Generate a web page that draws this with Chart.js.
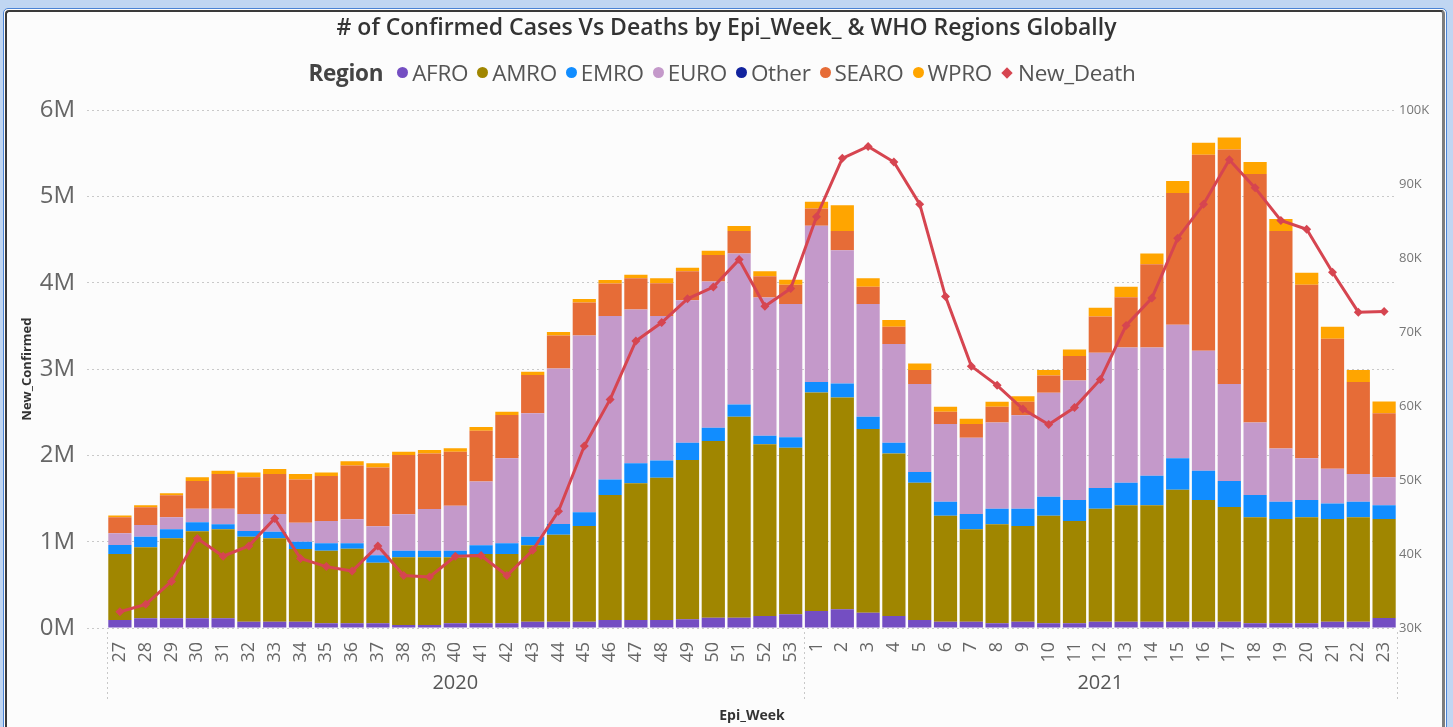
<!DOCTYPE html>
<html>
<head>
<meta charset="utf-8">
<script src="https://cdn.jsdelivr.net/npm/chart.js@4"></script>
<style>
  html, body { margin: 0; padding: 0; }
  body { width: 1453px; height: 727px; background: #c0d6f2; position: relative; overflow: hidden; font-family: "Open Sans", sans-serif; }
  .frame { position: absolute; left: 3px; top: 8px; width: 1444px; height: 740px; border: 1px solid #4b83d4; border-radius: 5px 5px 0 0; background: #fcfcfc; box-sizing: border-box; }
  .panel { position: absolute; left: 5px; top: 10px; width: 1440px; height: 740px; border-left: 2px solid #3a3a3a; border-top: 2px solid #3a3a3a; border-right: 3px solid #7d7d7d; border-radius: 4px 4px 0 0; background: #fcfcfc; box-sizing: border-box; }
  #chart { position: absolute; left: 0; top: 0; }
  #legend { position: absolute; left: 0; top: 57px; width: 1453px; display: flex; justify-content: center; align-items: center; font-size: 22.5px; color: #555; letter-spacing: -0.3px; }
  #legend .ttl { font-weight: 700; color: #444; margin-right: 14px; }
  #legend .item { display: flex; align-items: center; margin-right: 9px; }
  #legend .dot { width: 11px; height: 11px; border-radius: 50%; margin-right: 4px; }
  #legend .dia { width: 8px; height: 8px; transform: rotate(45deg); margin-right: 7px; margin-left: 2px; }
</style>
</head>
<body>
<div class="frame"></div>
<div class="panel"></div>
<canvas id="chart" width="1453" height="727"></canvas>
<div id="legend"></div>
<script>
// Epi weeks, 2020 wk27 .. 2021 wk23
const weeks = ['27','28','29','30','31','32','33','34','35','36','37','38','39','40','41','42','43','44','45','46','47','48','49','50','51','52','53',
  '1','2','3','4','5','6','7','8','9','10','11','12','13','14','15','16','17','18','19','20','21','22','23'];
const years = ['2020','2020','2020','2020','2020','2020','2020','2020','2020','2020','2020','2020','2020','2020','2020','2020','2020','2020','2020','2020','2020','2020','2020','2020','2020','2020','2020',
  '2021','2021','2021','2021','2021','2021','2021','2021','2021','2021','2021','2021','2021','2021','2021','2021','2021','2021','2021','2021','2021','2021','2021'];

// new confirmed cases per region, in thousands
const afro  = [93,112,112,112,112,73,73,73,54,54,54,35,35,54,54,54,73,73,73,93,93,93,100,119,119,139,158,
  197,216,177,139,93,73,73,54,73,54,54,73,73,73,73,73,73,54,54,54,73,73,116];
const amro  = [764,823,927,1008,1031,985,966,842,842,865,703,784,784,765,803,803,885,1008,1109,1448,1583,1648,1846,2047,2329,1989,1931,
  2533,2456,2128,1884,1590,1228,1070,1147,1109,1247,1185,1309,1348,1348,1529,1410,1329,1228,1209,1228,1190,1209,1147];
const emro  = [104,123,104,104,58,66,77,85,85,62,85,77,77,77,101,124,100,124,158,181,232,201,201,154,143,100,120,
  120,162,143,124,124,162,177,181,200,220,244,240,262,343,364,339,301,259,200,201,181,181,158];
const euro  = [136,135,139,158,181,196,204,220,258,278,336,421,482,521,741,985,1429,1803,2050,1892,1783,1672,1652,1696,1749,1603,1544,
  1810,1544,1305,1143,1019,900,885,1000,1082,1205,1386,1567,1568,1487,1547,1390,1123,841,618,483,402,321,325];
const other = [0,0,0,0,0,0,0,0,0,0,0,0,0,0,0,0,0,0,0,0,0,0,0,0,0,0,0,
  0,0,0,0,0,0,0,0,0,0,0,0,0,0,0,0,0,0,0,0,0,0,0];
const searo = [185,205,255,321,402,426,464,502,522,625,683,687,645,625,587,501,444,382,383,379,363,382,336,305,259,246,224,
  201,221,201,200,163,143,158,182,157,201,282,421,583,965,1529,2271,2719,2880,2518,2011,1505,1066,741];
const wpro  = [23,23,23,43,38,57,58,62,42,47,47,38,39,40,42,39,38,39,38,38,39,58,39,50,58,58,58,
  77,301,98,78,77,58,61,57,63,62,77,100,120,124,139,139,139,139,139,139,139,139,139];

// weekly new deaths
const newDeath = [32200,33200,36300,42100,39700,41100,44800,39400,38300,37700,41100,37100,36900,39700,39800,37100,40500,45800,54600,60900,68800,71300,74500,76100,79800,73500,75900,
  85600,93500,95100,93000,87300,74800,65400,62800,59600,57500,59800,63600,70900,74600,82700,87300,93300,89500,85100,83900,78100,72700,72800];

const regionNames = ['AFRO','AMRO','EMRO','EURO','Other','SEARO','WPRO'];
const regionData = [afro, amro, emro, euro, other, searo, wpro];
const regionColors = ['#744EC2','#A08600','#118DFF','#C499CA','#12239E','#E66C37','#FFA500'];
const deathColor = '#D64550';

const datasets = regionNames.map((name, i) => ({
  type: 'bar',
  label: name,
  data: regionData[i],
  backgroundColor: regionColors[i],
  borderWidth: 0,
  barPercentage: 0.9,
  categoryPercentage: 1.0,
  yAxisID: 'y',
  order: 2
}));
datasets.push({
  type: 'line',
  label: 'New_Death',
  data: newDeath,
  yAxisID: 'y1',
  borderColor: deathColor,
  backgroundColor: deathColor,
  borderWidth: 3,
  pointStyle: 'rectRot',
  pointRadius: 4.5,
  pointBackgroundColor: deathColor,
  pointBorderWidth: 0,
  tension: 0,
  order: 0
});

// year row under the week labels
const yearGroups = {
  id: 'yearGroups',
  afterDraw(chart) {
    const x = chart.scales.x;
    const ctx = chart.ctx;
    const half = (x.getPixelForValue(1) - x.getPixelForValue(0)) / 2;
    const groups = [];
    years.forEach((y, i) => {
      const last = groups[groups.length - 1];
      if (last && last.year === y) last.end = i;
      else groups.push({ year: y, start: i, end: i });
    });
    ctx.save();
    ctx.strokeStyle = '#c8c8c8';
    ctx.lineWidth = 1;
    ctx.setLineDash([2, 3]);
    const edges = [x.getPixelForValue(0) - half];
    groups.forEach(g => edges.push(x.getPixelForValue(g.end) + half));
    edges.forEach(px => {
      ctx.beginPath();
      ctx.moveTo(Math.round(px) + 0.5, chart.chartArea.bottom + 4);
      ctx.lineTo(Math.round(px) + 0.5, 700);
      ctx.stroke();
    });
    ctx.setLineDash([]);
    ctx.fillStyle = '#555';
    ctx.font = '20px "Open Sans"';
    ctx.textAlign = 'center';
    ctx.textBaseline = 'middle';
    groups.forEach(g => {
      const cx = (x.getPixelForValue(g.start) + x.getPixelForValue(g.end)) / 2;
      ctx.fillText(g.year, cx, 683);
    });
    ctx.restore();
  }
};

const ctx = document.getElementById('chart').getContext('2d');
new Chart(ctx, {
  data: { labels: weeks, datasets: datasets },
  plugins: [yearGroups],
  options: {
    responsive: false,
    animation: false,
    layout: { padding: 0 },
    plugins: {
      legend: { display: false },
      tooltip: { enabled: false },
      title: {
        display: true,
        text: '# of Confirmed Cases Vs Deaths by Epi_Week_ & WHO Regions Globally',
        color: '#333',
        font: { family: 'Open Sans', size: 23, weight: '600' },
        padding: { top: 15, bottom: 67.6 }
      }
    },
    scales: {
      x: {
        stacked: true,
        grid: { display: false },
        border: { display: false },
        ticks: {
          autoSkip: false, minRotation: 90, maxRotation: 90,
          color: '#666', font: { family: 'Open Sans', size: 18 }, padding: 6
        },
        title: {
          display: true, text: 'Epi_Week', color: '#333',
          font: { family: 'Open Sans', size: 14, weight: 'bold' }, padding: { top: 0, bottom: 3 }
        },
        afterFit(scale) { scale.height = 99; }
      },
      y: {
        stacked: true,
        position: 'left',
        min: 0, max: 6000,
        ticks: {
          stepSize: 1000, color: '#666', padding: 12,
          font: { family: 'Open Sans', size: 24 },
          callback: v => (v / 1000) + 'M'
        },
        grid: { color: '#c9c9c9', lineWidth: 1, tickLength: 20, tickColor: '#c9c9c9', tickBorderDash: [2, 3] },
        border: { display: false, dash: [2, 3] },
        title: {
          display: true, text: 'New_Confirmed', color: '#333',
          font: { family: 'Open Sans', size: 13, weight: 'bold' }, padding: { top: 19, bottom: 0 }
        },
        afterFit(scale) { scale.width = 107; }
      },
      y1: {
        position: 'right',
        min: 30000, max: 100000,
        ticks: {
          stepSize: 10000, color: '#777', padding: 2,
          font: { family: 'Open Sans', size: 13 },
          callback: v => (v / 1000) + 'K'
        },
        grid: { drawOnChartArea: false, drawTicks: false },
        border: { display: false },
        afterFit(scale) { scale.width = 56; }
      }
    }
  }
});

// legend row: "Region" then each series with its marker
const legend = document.getElementById('legend');
legend.innerHTML = '<span class="ttl">Region</span>';
regionNames.forEach((name, i) => {
  legend.innerHTML += '<span class="item"><span class="dot" style="background:' + regionColors[i] + '"></span>' + name + '</span>';
});
legend.innerHTML += '<span class="item"><span class="dia" style="background:' + deathColor + '"></span>New_Death</span>';
</script>
</body>
</html>
